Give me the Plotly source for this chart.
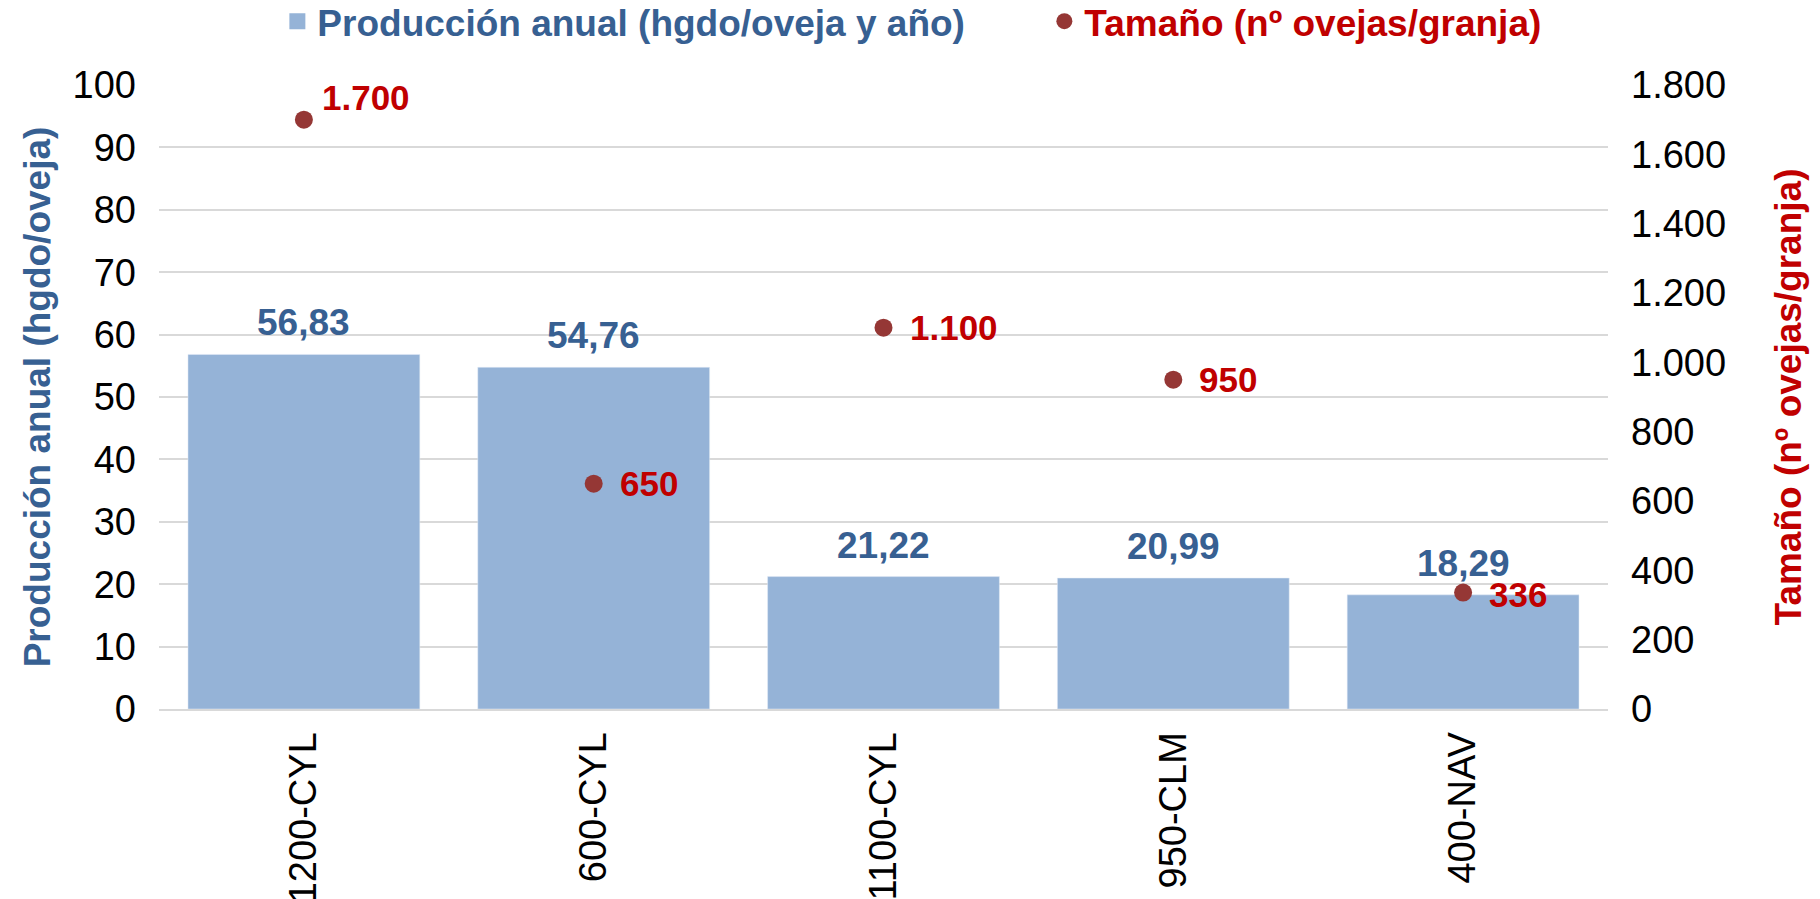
import plotly.graph_objects as go

categories = ["1200-CYL", "600-CYL", "1100-CYL", "950-CLM", "400-NAV"]
produccion = [56.83, 54.76, 21.22, 20.99, 18.29]
tamano = [1700, 650, 1100, 950, 336]
tamano_label_shift = [22, 0, 0, 0, -2]
tamano_label_xshift = [16, 24, 24, 24, 24]

FONT = "Arial, Liberation Sans, sans-serif"
BLUE_TXT = "#376092"
RED_TXT = "#C00000"
BAR = "#95B3D7"
DOT = "#953735"

name_bar = "Producción anual (hgdo/oveja y año)"
name_dot = "Tamaño (nº ovejas/granja)"

fig = go.Figure()
fig.add_trace(go.Bar(
    x=categories, y=produccion, name=name_bar,
    marker_color=BAR, showlegend=False,
))
# legend entry for bars (square symbol)
fig.add_trace(go.Scatter(
    x=[None], y=[None], mode="markers", showlegend=True,
    name=f"<span style='color:{BLUE_TXT}'>{name_bar}</span>",
    marker=dict(symbol="square", size=18, color=BAR),
    legendwidth=722,
))
fig.add_trace(go.Scatter(
    x=categories, y=tamano, yaxis="y2", mode="markers",
    name=f"<span style='color:{RED_TXT}'>{name_dot}</span>",
    marker=dict(color=DOT, size=18),
    cliponaxis=False,
))

annotations = []
for c, v in zip(categories, produccion):
    annotations.append(dict(
        x=c, y=v, xref="x", yref="y", text=f"{v:.2f}".replace(".", ","),
        showarrow=False, yanchor="bottom", xanchor="center", yshift=9,
        font=dict(family=FONT, size=37, color=BLUE_TXT, weight="bold"),
    ))
for c, v, dy, dx in zip(categories, tamano, tamano_label_shift, tamano_label_xshift):
    annotations.append(dict(
        x=c, y=v, xref="x", yref="y2", text=f"{v:,}".replace(",", "."),
        showarrow=False, yanchor="middle", xanchor="left", xshift=dx, yshift=dy,
        font=dict(family=FONT, size=35, color=RED_TXT, weight="bold"),
    ))

fig.update_layout(
    width=1820, height=899,
    paper_bgcolor="white", plot_bgcolor="white",
    separators=",.",
    margin=dict(l=159, r=212, t=85, b=190, autoexpand=False),
    bargap=0.2,
    font=dict(family=FONT, color="black"),
    showlegend=True,
    annotations=annotations,
    legend=dict(
        orientation="h", xref="container", yref="container",
        x=0.1524, xanchor="left", y=0.976, yanchor="middle",
        font=dict(family=FONT, size=37, weight="bold"),
        itemsizing="trace", tracegroupgap=0, itemwidth=30,
        bgcolor="rgba(0,0,0,0)",
    ),
    xaxis=dict(
        tickangle=-90, tickfont=dict(family=FONT, size=38, color="black"),
        showline=True, linecolor="#D9D9D9", linewidth=2, ticks="",
        showgrid=False, automargin=False, ticklabelstandoff=6,
    ),
    yaxis=dict(
        range=[0, 100], dtick=10, showgrid=True, gridcolor="#D9D9D9", gridwidth=1.5,
        zeroline=False, tickfont=dict(family=FONT, size=38, color="black"),
        ticklabelstandoff=22, automargin=False,
        title=dict(text="Producción anual (hgdo/oveja)", standoff=10,
                   font=dict(family=FONT, size=37, color=BLUE_TXT, weight="bold")),
    ),
    yaxis2=dict(
        range=[0, 1800], dtick=200, overlaying="y", side="right",
        showgrid=False, zeroline=False, tickformat=",d",
        tickfont=dict(family=FONT, size=38, color="black"),
        ticklabelstandoff=22, automargin=False,
        title=dict(text="Tamaño (nº ovejas/granja)", standoff=50,
                   font=dict(family=FONT, size=37, color=RED_TXT, weight="bold")),
    ),
)

fig.write_html("out.html", config={"displayModeBar": False},
               post_script="document.body.style.margin='0';")
